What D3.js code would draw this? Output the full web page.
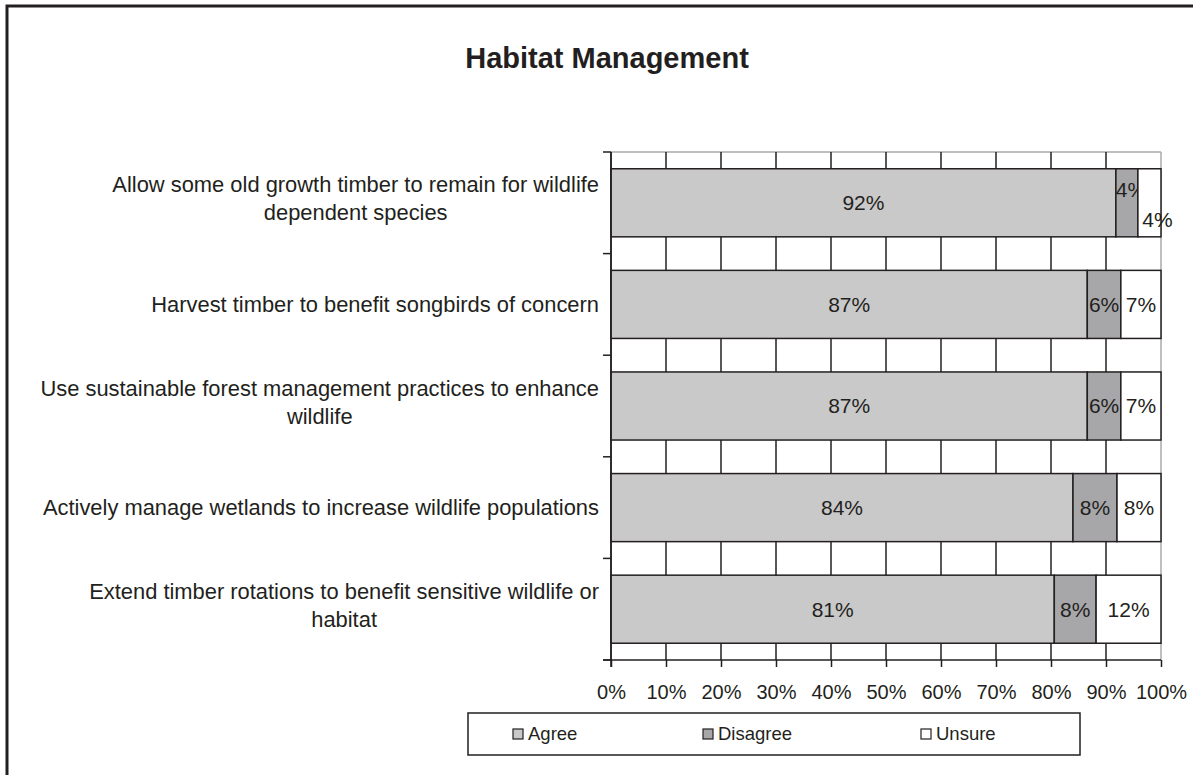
<!DOCTYPE html>
<html>
<head>
<meta charset="utf-8">
<script src="https://cdn.jsdelivr.net/npm/d3@7"></script>
<style>
  body { margin: 0; background: #fff; }
  text { font-family: "Liberation Sans", Arial, sans-serif; fill: #231f20; }
</style>
</head>
<body>
<div class="chart-container"></div>
<script>
const width = 1193;
const height = 775;

// Categories, top to bottom, already wrapped the way the picture shows them
const categories = [
  ['Allow some old growth timber to remain for wildlife', 'dependent species'],
  ['Harvest timber to benefit songbirds of concern'],
  ['Use sustainable forest management practices to enhance', 'wildlife'],
  ['Actively manage wetlands to increase wildlife populations'],
  ['Extend timber rotations to benefit sensitive wildlife or', 'habitat']
];

// Percent of respondents per answer
const agree = [91.8, 86.6, 86.6, 84.0, 80.6];
const disagree = [4.0, 6.1, 6.1, 8.0, 7.6];
const unsure = [4.2, 7.3, 7.3, 8.0, 11.8];

const seriesNames = ['Agree', 'Disagree', 'Unsure'];
const seriesColors = ['#c9c9c9', '#a7a7a9', '#ffffff'];
const xTicks = [0, 10, 20, 30, 40, 50, 60, 70, 80, 90, 100];

const margin = {top: 152, left: 611, right: 32, bottom: 115};
const plotW = width - margin.left - margin.right;
const plotH = height - margin.top - margin.bottom;

const svg = d3.select('.chart-container')
  .append('svg')
  .attr('width', width)
  .attr('height', height);

// Outer frame (runs off the bottom and right edge of the picture)
svg.append('rect')
  .attr('x', 7).attr('y', 6)
  .attr('width', width + 20).attr('height', height + 20)
  .attr('fill', 'none')
  .attr('stroke', '#231f20')
  .attr('stroke-width', 3);

svg.append('text')
  .attr('x', 607).attr('y', 68)
  .attr('text-anchor', 'middle')
  .attr('font-size', 29)
  .attr('font-weight', 'bold')
  .text('Habitat Management');

const x = d3.scaleLinear().domain([0, 100]).range([0, plotW]);
const y = d3.scaleBand()
  .domain(d3.range(categories.length))
  .range([0, plotH])
  .paddingInner(0.33)
  .paddingOuter(0.165);

const g = svg.append('g')
  .attr('transform', `translate(${margin.left},${margin.top})`);

// Plot border (light) and vertical gridlines (dark)
g.append('line')
  .attr('x1', 0).attr('x2', plotW)
  .attr('y1', 0).attr('y2', 0)
  .attr('stroke', '#aaa').attr('stroke-width', 1.5);

g.append('g')
  .selectAll('line')
  .data(xTicks)
  .enter()
  .append('line')
  .attr('x1', d => x(d)).attr('x2', d => x(d))
  .attr('y1', 0).attr('y2', plotH)
  .attr('stroke', d => d === 100 ? '#aaa' : '#231f20')
  .attr('stroke-width', 1.5);

// Stack the three answers
const rows = categories.map((c, i) => ({i, Agree: agree[i], Disagree: disagree[i], Unsure: unsure[i]}));
const stacked = d3.stack().keys(seriesNames)(rows);

const layers = g.selectAll('.layer')
  .data(stacked)
  .enter()
  .append('g')
  .attr('class', 'layer')
  .attr('fill', (d, k) => seriesColors[k]);

layers.selectAll('rect')
  .data(d => d)
  .enter()
  .append('rect')
  .attr('x', d => x(d[0]))
  .attr('y', d => y(d.data.i))
  .attr('width', d => x(d[1]) - x(d[0]))
  .attr('height', y.bandwidth())
  .attr('stroke', '#231f20')
  .attr('stroke-width', 1.5);

// Segment labels; very thin segments get nudged like the original
layers.selectAll('text')
  .data((d, k) => d.map(s => ({s, k})))
  .enter()
  .append('text')
  .attr('x', d => {
    const mid = (x(d.s[0]) + x(d.s[1])) / 2;
    const thin = d.s[1] - d.s[0] < 5;
    if (thin && d.k === 1) return mid + 4;
    if (thin && d.k === 2) return mid + 8;
    return mid;
  })
  .attr('y', d => {
    const mid = y(d.s.data.i) + y.bandwidth() / 2;
    const thin = d.s[1] - d.s[0] < 5;
    if (thin && d.k === 1) return mid - 13;
    if (thin && d.k === 2) return mid + 17;
    return mid;
  })
  .attr('dy', '0.35em')
  .attr('text-anchor', 'middle')
  .attr('font-size', 21)
  .text(d => d3.format('.0f')(d.s[1] - d.s[0]) + '%');

// Left axis with ticks on the band boundaries
g.append('line')
  .attr('x1', 0).attr('x2', 0)
  .attr('y1', 0).attr('y2', plotH + 7)
  .attr('stroke', '#231f20').attr('stroke-width', 1.5);

g.append('g')
  .selectAll('line')
  .data(d3.range(categories.length + 1))
  .enter()
  .append('line')
  .attr('x1', -8).attr('x2', 0)
  .attr('y1', d => d * y.step()).attr('y2', d => d * y.step())
  .attr('stroke', '#231f20').attr('stroke-width', 1.5);

// Category labels: lines centred on each other, block right-aligned
const lineH = 28;
categories.forEach((lines, i) => {
  const cy = y(i) + y.bandwidth() / 2 - (lines.length > 1 ? 4 : 0);
  const t = g.append('text')
    .attr('text-anchor', 'middle')
    .attr('font-size', 21.9);
  lines.forEach((line, j) => {
    t.append('tspan')
      .attr('y', cy + (j - (lines.length - 1) / 2) * lineH)
      .attr('dy', '0.35em')
      .text(line);
  });
  const w = d3.max(t.selectAll('tspan').nodes(), n => n.getComputedTextLength());
  t.selectAll('tspan').attr('x', -12 - w / 2);
});

// Bottom axis
const xAxis = d3.axisBottom(x)
  .tickValues(xTicks)
  .tickFormat(d => d + '%')
  .tickSizeInner(7)
  .tickSizeOuter(0)
  .tickPadding(18);

const ax = g.append('g')
  .attr('transform', `translate(0,${plotH})`)
  .call(xAxis);
ax.select('.domain')
  .attr('d', `M-8,0H${plotW}`)
  .attr('stroke', '#231f20').attr('stroke-width', 1.5);
ax.selectAll('.tick line').attr('stroke', '#231f20').attr('stroke-width', 1.5);
ax.selectAll('.tick text')
  .attr('font-size', 20)
  .attr('fill', '#231f20')
  .attr('font-family', '"Liberation Sans", Arial, sans-serif');

// Legend
const legend = svg.append('g').attr('transform', 'translate(468,713)');
legend.append('rect')
  .attr('width', 612).attr('height', 42)
  .attr('fill', '#fff')
  .attr('stroke', '#231f20').attr('stroke-width', 1.5);

const legendX = [45, 235, 453];
const item = legend.selectAll('.item')
  .data(seriesNames)
  .enter()
  .append('g')
  .attr('class', 'item')
  .attr('transform', (d, k) => `translate(${legendX[k]},0)`);

item.append('rect')
  .attr('y', 16).attr('width', 10).attr('height', 10)
  .attr('fill', (d, k) => seriesColors[k])
  .attr('stroke', '#231f20').attr('stroke-width', 1.2);

item.append('text')
  .attr('x', 15).attr('y', 21)
  .attr('dy', '0.35em')
  .attr('font-size', 18.5)
  .text(d => d);
</script>
</body>
</html>
